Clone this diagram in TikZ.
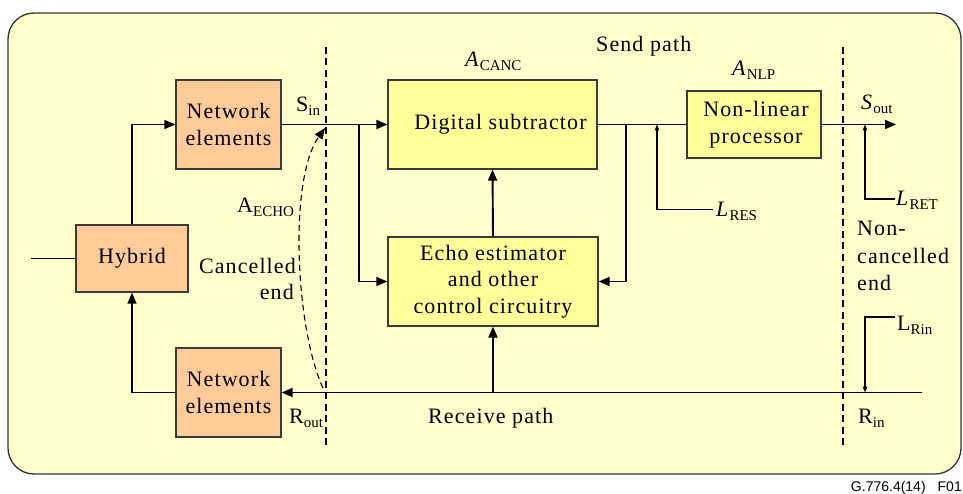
\documentclass[tikz,border=0pt]{standalone}
\usepackage{fontspec}
\setmainfont{Liberation Serif}
\newfontfamily\boxfamily{Liberation Serif}[LetterSpace=5]
\newfontfamily\subfamily{Liberation Serif}
\newfontfamily\footfamily{Liberation Sans}
\usetikzlibrary{arrows.meta}

\definecolor{panelfill}{HTML}{FFFFCC}
\definecolor{panelline}{HTML}{333333}
\definecolor{peach}{HTML}{FFCC99}
\definecolor{lemon}{HTML}{FFFF99}
\definecolor{boxline}{HTML}{3A3A3A}

% subscript set a little below the baseline
\newcommand\mysub[1]{\raisebox{-4pt}{\subfamily\fontsize{15}{15}\selectfont #1}}

\begin{document}
\begin{tikzpicture}[x=1pt,y=-1pt,
  txt/.style={font=\boxfamily\fontsize{22}{26.5}\selectfont},
  blockbox/.style={draw=boxline, line width=1.2pt, rectangle, inner sep=0pt,
                   align=center, txt},
  netbox/.style={blockbox, fill=peach},
  procbox/.style={blockbox, fill=lemon},
  lbl/.style={inner sep=0pt, anchor=base west, txt},
  lble/.style={inner sep=0pt, anchor=base east, txt},
  sig/.style={line width=1.3pt, draw=black},
  sigthick/.style={line width=1.9pt, draw=black},
  arr/.style={-{Triangle[length=11pt,width=9pt]}},
  tinyarr/.style={line width=1.2pt, -{Triangle[length=6pt,width=4.5pt]}},
  divider/.style={line width=1.6pt, dash pattern=on 7pt off 4.5pt},
  echopath/.style={line width=1.1pt, dash pattern=on 6pt off 4pt,
                   -{Triangle[length=11pt,width=9pt]}}
]
\useasboundingbox (0,0) rectangle (963,494);

% panel
\draw[fill=panelfill, draw=panelline, line width=1.3pt, rounded corners=26pt]
  (8,13) rectangle (961,474);

% blocks
\node[netbox, minimum width=112pt, minimum height=67pt] (hyb) at (132,258.5) {Hybrid};
\node[netbox, minimum width=105pt, minimum height=89pt] (neT) at (228.5,124.5) {Network\\elements};
\node[netbox, minimum width=105pt, minimum height=89pt] (neB) at (228.5,392.5) {Network\\elements};
\node[procbox, minimum width=209pt, minimum height=89pt] (ds) at (492.5,124.5) {\hspace*{16pt}Digital subtractor};
\node[procbox, minimum width=210pt, minimum height=89pt] (ee) at (493,281.5) {Echo estimator\\and other\\control circuitry};
\node[procbox, minimum width=134pt, minimum height=67pt] (nlp) at (754,124.5) {\hspace*{4pt}Non-linear\\\hspace*{4pt}processor};

% reference-point dividers
\coordinate (d1a) at (326,47);  \coordinate (d1b) at (326,447);
\coordinate (d2a) at (843,47);  \coordinate (d2b) at (843,447);
\draw[divider] (d1a) -- (d1b);
\draw[divider] (d2a) -- (d2b);

% hybrid connections
\coordinate (line2w) at (31,258.5);
\draw[sig] (line2w) -- (hyb.west);
\draw[sig, arr] (hyb.north) |- (neT.west);
\draw[sig, arr] (neB.west) -| (hyb.south);

% send path
\coordinate (j1) at (359,124.5);
\coordinate (j2) at (626,124.5);
\coordinate (sout) at (896,124.5);
\draw[sigthick, arr] (neT.east) -- (ds.west);
\draw[sigthick, arr] (j1) |- (ee.west);
\draw[sigthick, arr] (ee.north) -- (ds.south);
\draw[sig] (ds.east) -- (nlp.west);
\draw[sigthick, arr] (j2) |- (ee.east);
\draw[sigthick, arr] (nlp.east) -- (sout);

% receive path
\coordinate (rin) at (922,392.5);
\coordinate (jr) at (493,392.5);
\draw[sigthick, arr] (rin) -- (neB.east);
\draw[sigthick, arr] (jr) -- (ee.south);

% level measurement points
\coordinate (lres) at (713,209.5);  \coordinate (lresT) at (657,124.5);
\coordinate (lret) at (895,199);    \coordinate (lretT) at (865,124.5);
\coordinate (lrin) at (895,317);    \coordinate (lrinT) at (865,392.5);
\draw[tinyarr] (lres) -| (lresT);
\draw[tinyarr] (lret) -| (lretT);
\draw[tinyarr] (lrin) -| (lrinT);

% echo path
\coordinate (eb) at (323,388);
\coordinate (ea) at (325,128);
\draw[echopath] (eb) .. controls (296,330) and (288,180) .. (ea);

% labels
\node[lbl] (sinL) at (296,112) {S\mysub{in}};
\node[lbl] (aechoL) at (237,213) {A\mysub{ECHO}};
\node[lble] (canc1) at (296,273) {Cancelled};
\node[lble] (canc2) at (294,299) {end};
\node[lbl] (routL) at (289,423) {R\mysub{out}};
\node[lbl] (acancL) at (465,67) {\textit{A}\mysub{CANC}};
\node[lbl] (sendL) at (596,52) {Send path};
\node[lbl] (anlpL) at (732,76) {\textit{A}\mysub{NLP}};
\node[lbl] (soutL) at (861,110) {\textit{S}\mysub{out}};
\node[lbl] (lresL) at (716,217) {\textit{L}\mysub{RES}};
\node[lbl] (lretL) at (896,206) {\textit{L}\mysub{RET}};
\node[lbl] (nc1) at (857,236) {Non-};
\node[lbl] (nc2) at (857,263) {cancelled};
\node[lbl] (nc3) at (857,290) {end};
\node[lbl] (lrinL) at (897,330) {L\mysub{Rin}};
\node[lbl] (rinL) at (858,423) {R\mysub{in}};
\node[lbl] (recvL) at (428,423) {Receive path};

\node[inner sep=0pt, anchor=base east, font=\footfamily\fontsize{14}{14}\selectfont]
  (figid) at (962,491) {G.776.4(14)\hspace{12pt}F01};
\end{tikzpicture}
\end{document}
